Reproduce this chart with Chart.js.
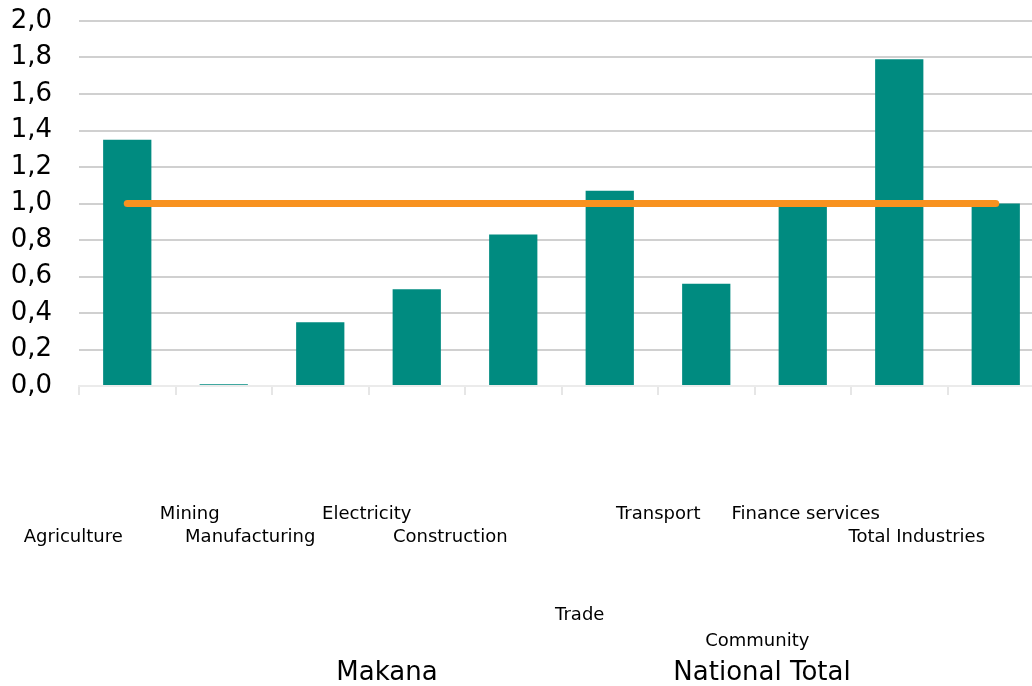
<!DOCTYPE html>
<html>
<head>
<meta charset="utf-8">
<script src="https://cdn.jsdelivr.net/npm/chart.js@4.4.1/dist/chart.umd.min.js"></script>
<style>
  html, body { margin: 0; padding: 0; background: #fff; overflow: hidden; }
  canvas { display: block; }
</style>
</head>
<body>
<canvas id="myChart" width="1060" height="686"></canvas>
<script>
// data
const sectores = ['Agriculture', 'Mining', 'Manufacturing', 'Electricity', 'Construction',
	'Trade', 'Transport', 'Finance services', 'Community', 'Total Industries'];
const makana = [1.35, 0.01, 0.35, 0.53, 0.83, 1.07, 0.56, 1.0, 1.79, 1.0];
const nacional = [1, 1, 1, 1, 1, 1, 1, 1, 1, 1];
const yTicks = [0, 0.2, 0.4, 0.6, 0.8, 1.0, 1.2, 1.4, 1.6, 1.8, 2.0];

const fuente = '"DejaVu Sans", Verdana, sans-serif';

// the category labels in the original are scattered, draw them by hand
const etiquetas = {
	id: 'etiquetas',
	afterDraw(chart, args, opts) {
		const c = chart.ctx;
		const x = chart.scales.x;
		c.save();
		c.fillStyle = '#000';
		c.textAlign = 'center';
		c.textBaseline = 'middle';
		c.font = '18px ' + fuente;
		chart.data.labels.forEach((lab, i) => {
			c.fillText(lab, x.getPixelForValue(i) + opts.dx[i], opts.fila[i]);
		});
		// legend, text only
		c.font = '26px ' + fuente;
		chart.data.datasets.forEach((ds, i) => {
			c.fillText(ds.label, opts.leyendaX[i], opts.leyendaY);
		});
		c.restore();
	}
};

const ctx = document.getElementById('myChart');
const myChart = new Chart(ctx, {
	type: 'bar',
	data: {
		labels: sectores,
		datasets: [{
			label: 'Makana',
			data: makana,
			backgroundColor: '#008b80',
			barPercentage: 0.5,
			categoryPercentage: 1,
			order: 1
		}, {
			type: 'line',
			label: 'National Total',
			data: nacional,
			borderColor: '#f8921f',
			borderWidth: 7,
			borderCapStyle: 'round',
			pointRadius: 0,
			fill: false,
			order: 0
		}]
	},
	options: {
		responsive: false,
		animation: false,
		layout: { padding: { left: 11, top: 21, right: 16, bottom: 0 } },
		plugins: {
			legend: { display: false },
			tooltip: { enabled: false },
			etiquetas: {
				dx: [-54, -34, -70, -50, -63, -30, -48, 3, -142, -79],
				fila: [537, 514, 537, 514, 537, 615, 514, 514, 641, 537],
				leyendaX: [387, 762],
				leyendaY: 673
			}
		},
		scales: {
			x: {
				offset: true,
				grid: {
					offset: true,
					drawOnChartArea: false,
					color: '#e6e6e6',
					lineWidth: 2,
					tickLength: 9
				},
				border: { color: '#ebebeb', width: 2 },
				ticks: { display: false },
				afterFit: s => { s.height = 300; s.paddingLeft = 0; s.paddingRight = 0; }
			},
			y: {
				min: 0,
				max: 2,
				afterBuildTicks: s => { s.ticks = yTicks.map(v => ({ value: v })); },
				afterFit: s => { s.width = 68; s.paddingTop = 0; s.paddingBottom = 0; },
				grid: {
					drawTicks: false,
					color: c => c.tick && c.tick.value === 0 ? '#ebebeb' : '#d0d0d0',
					lineWidth: 2
				},
				border: { display: false },
				ticks: {
					padding: 27,
					color: '#000',
					font: { family: fuente, size: 26 },
					callback: v => v.toFixed(1).replace('.', ',')
				}
			}
		}
	},
	plugins: [etiquetas]
});
</script>
</body>
</html>
